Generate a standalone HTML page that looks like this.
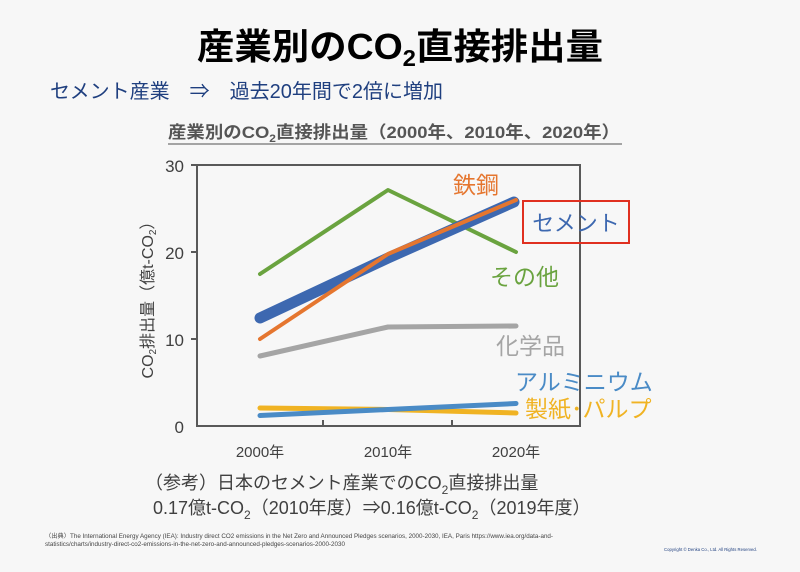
<!DOCTYPE html>
<html><head><meta charset="utf-8"><style>
body{margin:0;background:#f7f7f7;}
svg text{font-family:"Liberation Sans","Noto Sans CJK JP",sans-serif;}
</style></head><body>
<svg width="800" height="567" xmlns="http://www.w3.org/2000/svg">
<rect width="800" height="567" fill="#f7f7f7"/>
<text x="197" y="59" font-size="36" font-weight="bold" fill="#000" textLength="406" lengthAdjust="spacingAndGlyphs">産業別のCO<tspan font-size="23" dy="7">2</tspan><tspan dy="-7">直接排出量</tspan></text>
<text x="50" y="98" font-size="20" fill="#1f3f7f">セメント産業　⇒　過去20年間で2倍に増加</text>
<text x="168" y="138" font-size="17" font-weight="bold" fill="#555" textLength="452" lengthAdjust="spacingAndGlyphs">産業別のCO<tspan font-size="11" dy="4">2</tspan><tspan dy="-4">直接排出量（2000年、2010年、2020年）</tspan></text>
<line x1="168" y1="144" x2="622" y2="144" stroke="#888" stroke-width="1.5"/>
<rect x="197" y="165" width="383" height="261" fill="none" stroke="#595959" stroke-width="2"/>
<g stroke="#595959" stroke-width="2"><line x1="191" y1="165" x2="197" y2="165"/><line x1="191" y1="252" x2="197" y2="252"/><line x1="191" y1="339" x2="197" y2="339"/><line x1="323" y1="426" x2="323" y2="420"/><line x1="452" y1="426" x2="452" y2="420"/></g>
<g font-size="17" fill="#404040" text-anchor="end"><text x="184" y="172">30</text><text x="184" y="259">20</text><text x="184" y="346">10</text><text x="184" y="433">0</text></g>
<g font-size="15" fill="#404040" text-anchor="middle"><text x="260" y="457">2000年</text><text x="388" y="457">2010年</text><text x="516" y="457">2020年</text></g>
<text transform="translate(153,296) rotate(-90)" text-anchor="middle" font-size="16" fill="#404040">CO<tspan font-size="10" dy="3">2</tspan><tspan dy="-3">排出量（億t-CO</tspan><tspan font-size="10" dy="3">2</tspan><tspan dy="-3">）</tspan></text>
<g fill="none" stroke-linejoin="round" stroke-linecap="round">
<polyline points="260,408 388,409.5 516,413" stroke="#f0b323" stroke-width="5"/>
<polyline points="260,415.5 388,409.5 516,403.5" stroke="#4a8bc6" stroke-width="5"/>
<polyline points="260,356 388,327 516,326" stroke="#a5a5a5" stroke-width="5"/>
<polyline points="260,274 388,190 516,252" stroke="#6aa33f" stroke-width="4"/>
<polyline points="260,318 388,258 514,202" stroke="#3d68b0" stroke-width="11"/>
<polyline points="260,339 388,254 516,200" stroke="#e5762f" stroke-width="4"/>
</g>
<text x="453" y="193" font-size="23" fill="#e5762f">鉄鋼</text>
<rect x="523" y="201" width="106" height="42" fill="none" stroke="#e03020" stroke-width="2"/>
<text x="576" y="231" text-anchor="middle" font-size="22" fill="#3d68b0">セメント</text>
<text x="490" y="285" font-size="23" fill="#6aa33f">その他</text>
<text x="496" y="354" font-size="23" fill="#a5a5a5">化学品</text>
<text x="515" y="390" font-size="23" fill="#4a8bc6">アルミニウム</text>
<text x="525" y="417" font-size="23" fill="#f0b323">製紙･パルプ</text>
<g font-size="18" fill="#404040"><text x="145" y="489">（参考）日本のセメント産業でのCO<tspan font-size="12" dy="5">2</tspan><tspan dy="-5">直接排出量</tspan></text>
<text x="153" y="514">0.17億t-CO<tspan font-size="12" dy="5">2</tspan><tspan dy="-5">（2010年度）⇒0.16億t-CO</tspan><tspan font-size="12" dy="5">2</tspan><tspan dy="-5">（2019年度）</tspan></text></g>
<g font-size="6" fill="#444"><text x="45" y="538" textLength="508" lengthAdjust="spacingAndGlyphs">（出典）The International Energy Agency (IEA): Industry direct CO2 emissions in the Net Zero and Announced Pledges scenarios, 2000-2030, IEA, Paris https://www.iea.org/data-and-</text>
<text x="45" y="546" textLength="300" lengthAdjust="spacingAndGlyphs">statistics/charts/industry-direct-co2-emissions-in-the-net-zero-and-announced-pledges-scenarios-2000-2030</text>
<text x="664" y="551" font-size="4.5" fill="#1f3f7f" textLength="93" lengthAdjust="spacingAndGlyphs">Copyright © Denka Co., Ltd. All Rights Reserved.</text></g>
</svg>
</body></html>
